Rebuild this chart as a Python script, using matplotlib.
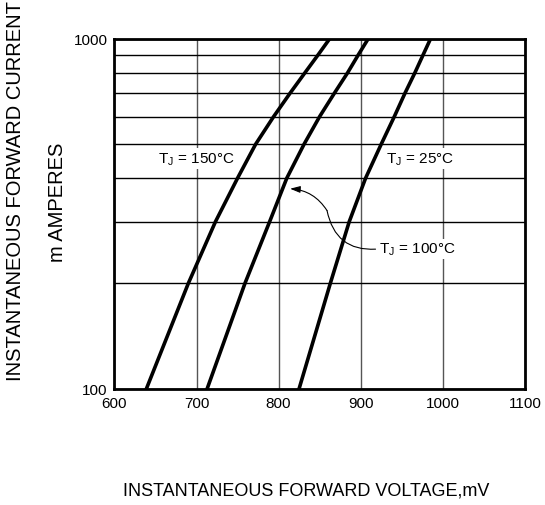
import matplotlib
matplotlib.use("Agg")
import matplotlib.pyplot as plt

# forward current (mA) vs. forward voltage (mV)
current_ma = [100, 200, 300, 400, 500, 600, 700, 800, 900, 1000]
vf_150c = [639, 690, 723, 750, 772, 794, 814, 832, 848, 862]
vf_100c = [713, 759, 789, 810, 831, 850, 868, 884, 897, 909]
vf_25c = [825, 863, 886, 906, 925, 941, 954, 966, 976, 985]

x_ticks = [600, 700, 800, 900, 1000, 1100]
y_major = [100, 1000]
y_minor = [200, 300, 400, 500, 600, 700, 800, 900]

plt.rcParams["font.family"] = ["Liberation Sans", "DejaVu Sans"]
plt.rcParams["mathtext.default"] = "regular"

fig = plt.figure(figsize=(5.45, 5.06), dpi=100)
ax = fig.add_axes([0.210, 0.230, 0.753, 0.691])

for vf in (vf_150c, vf_100c, vf_25c):
    ax.plot(vf, current_ma, color="black", lw=2.6, zorder=3,
            solid_joinstyle="round")

ax.set_yscale("log")
ax.set_xlim(600, 1100)
ax.set_ylim(100, 1000)
ax.set_xticks(x_ticks, labels=[str(t) for t in x_ticks])
ax.set_yticks(y_major, labels=[str(t) for t in y_major])
ax.set_yticks(y_minor, labels=[""] * len(y_minor), minor=True)
ax.tick_params(which="both", length=0, labelsize=11, pad=5)

ax.grid(axis="y", which="both", color="black", lw=1.0, zorder=1)
ax.grid(axis="x", which="major", color="#555555", lw=1.0, zorder=1)
ax.set_axisbelow(True)
for sp in ax.spines.values():
    sp.set_linewidth(2.0)

box = dict(fc="white", ec="none", pad=1.5)
ax.text(700, 455, "T$_{J}$ = 150°C", ha="center", va="center",
        fontsize=11, bbox=box, zorder=2)
ax.text(972, 455, "T$_{J}$ = 25°C", ha="center", va="center",
        fontsize=11, bbox=box, zorder=2)

# curvy leader from the 100 C label to its curve
ax.annotate("T$_{J}$ = 100°C", xy=(859, 323), xytext=(969, 251),
            ha="center", va="center", fontsize=11, bbox=box, zorder=2,
            arrowprops=dict(arrowstyle="-", lw=0.8, color="black",
                            relpos=(0, 0.5), shrinkA=1, shrinkB=0,
                            connectionstyle="arc3,rad=-0.45"))
ax.annotate("", xy=(814, 373), xytext=(859, 323),
            arrowprops=dict(arrowstyle="-|>,head_length=0.6,head_width=0.2",
                            lw=0.8, color="black", shrinkA=0, shrinkB=0,
                            connectionstyle="arc3,rad=0.25"))

fig.text(0.028, 0.623, "INSTANTANEOUS FORWARD CURRENT", rotation=90,
         ha="center", va="center", fontsize=14.5)
fig.text(0.106, 0.600, "m AMPERES", rotation=90,
         ha="center", va="center", fontsize=14.5)
fig.text(0.562, 0.030, "INSTANTANEOUS FORWARD VOLTAGE,mV",
         ha="center", va="center", fontsize=13)

fig.savefig("out.png", dpi=100)
